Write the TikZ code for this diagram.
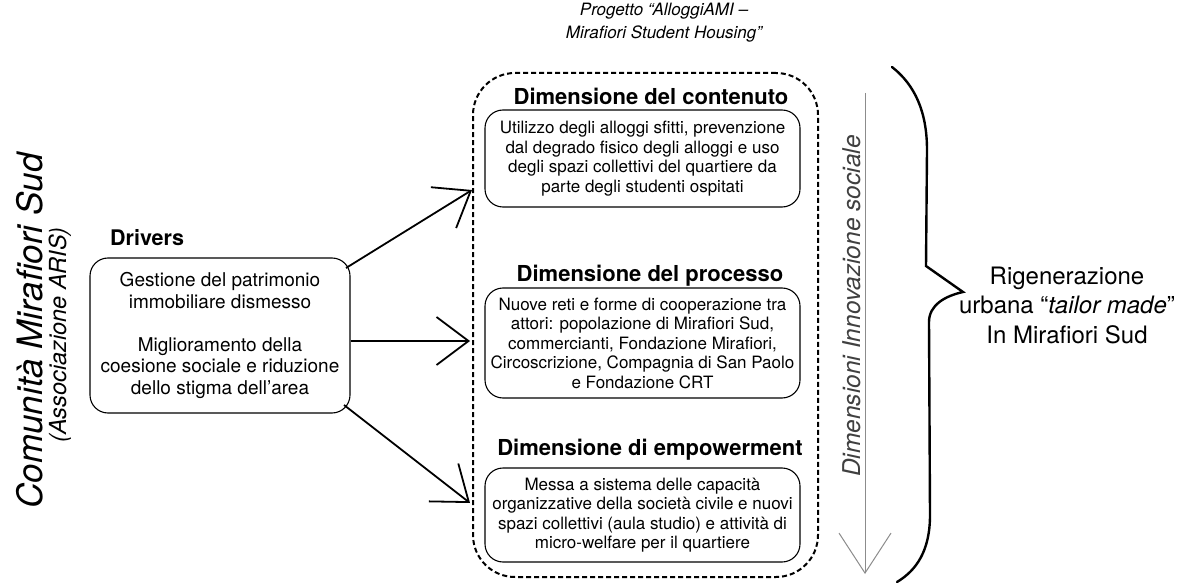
\documentclass[tikz,border=0pt]{standalone}
\usepackage{fontspec}
\setmainfont{TeX Gyre Heros}
\usetikzlibrary{arrows.meta}
\begin{document}
\begin{tikzpicture}[x=1pt,y=-1pt,
  rbox/.style={draw, line width=1.1pt, rounded corners=18pt, align=center, inner sep=0pt},
  head/.style={font=\fontsize{22}{25}\selectfont\bfseries, anchor=base, inner sep=0pt},
  conn/.style={line width=1.8pt, -{Straight Barb[length=32pt,width=48pt]}},
  garr/.style={draw=black!45, line width=1pt, -{Straight Barb[length=40pt,width=52pt]}},
  cont/.style={draw, line width=2pt, dash pattern=on 5pt off 3pt, rounded corners=42pt, inner sep=0pt},
  brace/.style={line width=2.4pt, line cap=round}
]
\useasboundingbox (0,0) rectangle (1204,585);

% left vertical titles
\node[rotate=90, anchor=base, inner sep=0pt, font=\fontsize{35}{40}\selectfont\itshape] (com) at (42,331) {Comunità Mirafiori Sud};
\node[rotate=90, anchor=base, inner sep=0pt, font=\fontsize{23.5}{27}\selectfont\itshape] (aris) at (66,335) {(Associazione ARIS)};

% drivers
\node[anchor=base west, inner sep=0pt, font=\fontsize{21.5}{25}\selectfont\bfseries] (drvl) at (110,246) {Drivers};
\node[rbox, minimum width=260pt, minimum height=155pt, font=\fontsize{19}{21.5}\selectfont] (drv) at (220,335.5)
  {Gestione del patrimonio\\immobiliare dismesso\\[21.5pt]Miglioramento della\\coesione sociale e riduzione\\dello stigma dell’area};

% project label
\node[align=center, inner sep=0pt, font=\fontsize{17}{23}\selectfont\itshape] (proj) at (664,23)
  {Progetto “AlloggiAMI –\\Mirafiori Student Housing”};

% dashed container
\node[cont, minimum width=345pt, minimum height=504pt] (box) at (645.5,325) {};

% headings
\node[head] (h1) at (651,105) {Dimensione del contenuto};
\node[head] (h2) at (650,281) {Dimensione del processo};
\node[head] (h3) at (650,455) {Dimensione di empowerment};

% content boxes
\node[rbox, minimum width=315pt, minimum height=97pt, font=\fontsize{17}{19.5}\selectfont] (b1) at (642.5,158.5)
  {Utilizzo degli alloggi sfitti, prevenzione\\dal degrado fisico degli alloggi e uso\\degli spazi collettivi del quartiere da\\parte degli studenti ospitati};
\node[rbox, minimum width=315pt, minimum height=110pt, font=\fontsize{17}{19.5}\selectfont] (b2) at (642.5,343)
  {Nuove reti e forme di cooperazione tra\\attori: popolazione di Mirafiori Sud,\\commercianti, Fondazione Mirafiori,\\Circoscrizione, Compagnia di San Paolo\\e Fondazione CRT};
\node[rbox, minimum width=315pt, minimum height=94pt, font=\fontsize{17}{19.5}\selectfont] (b3) at (642.5,515)
  {Messa a sistema delle capacità\\organizzative della società civile e nuovi\\spazi collettivi (aula studio) e attività di\\micro-welfare per il quartiere};

% connectors
\coordinate (s1) at (346,268);
\coordinate (s3) at (344,405);
\coordinate (t1) at (472,190);
\coordinate (t2) at (470,341);
\coordinate (t3) at (470,503);
\draw[conn] (s1) -- (t1);
\draw[conn] (drv.east |- t2) -- (t2);
\draw[conn] (s3) -- (t3);

% vertical gray arrow
\coordinate (va) at (865,93);
\coordinate (vb) at (865,574);
\draw[garr] (va) -- (vb);
\node[rotate=90, anchor=base, inner sep=0pt, text=black!75, font=\fontsize{24.5}{28}\selectfont\itshape] (dim) at (860,306) {Dimensioni Innovazione sociale};

% brace
\draw[brace] (892,67) .. controls (915,85) and (927,112) .. (927,150) -- (926,266) -- (963,292)
  .. controls (945,296) and (929,305) .. (929,322) -- (930,515)
  .. controls (930,550) and (917,570) .. (897,582);

% result text
\node[align=center, inner sep=0pt, font=\fontsize{24}{29.5}\selectfont] (res) at (1067,305)
  {Rigenerazione\\urbana “\textit{tailor made}”\\In Mirafiori Sud};
\end{tikzpicture}
\end{document}
